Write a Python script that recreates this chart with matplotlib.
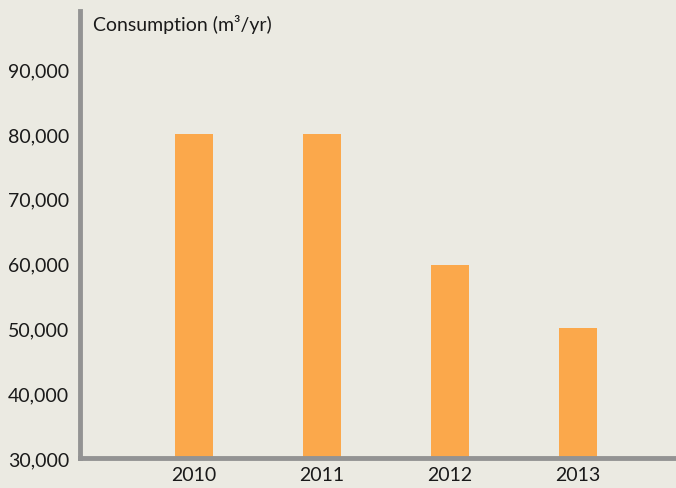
import matplotlib.pyplot as plt

# dane
years = ['2010', '2011', '2012', '2013']
consumption = [80000, 80000, 59800, 50000]
y_ticks = [30000, 40000, 50000, 60000, 70000, 80000, 90000]

bg = '#ebeae2'
bar_color = '#fba84b'
axis_color = '#939393'

plt.rcParams['font.family'] = ['Lato', 'DejaVu Sans']

fig = plt.figure(figsize=(6.76, 4.89), dpi=100, facecolor=bg)
ax = fig.add_axes([80 / 676, (489 - 459) / 489, 596 / 676, (459 - 12) / 489])
ax.set_facecolor(bg)

x = range(len(years))
ax.bar(x, consumption, width=0.297, color=bar_color, zorder=2)

ax.set_xlim(-0.89, 3.77)
ax.set_ylim(30000, 99000)

ax.set_yticks(y_ticks)
ax.set_yticklabels([f'{v:,}' for v in y_ticks])
ax.set_xticks(list(x))
ax.set_xticklabels(years)
ax.tick_params(axis='both', length=0, labelsize=14, colors='#1a1a1a')
ax.tick_params(axis='y', pad=8)
ax.tick_params(axis='x', pad=6)

for s in ['top', 'right']:
    ax.spines[s].set_visible(False)
for s in ['left', 'bottom']:
    ax.spines[s].set_color(axis_color)
    ax.spines[s].set_linewidth(3.5)
    ax.spines[s].set_zorder(3)

ax.text(93 / 676, 1 - 24 / 489, 'Consumption (m³/yr)', transform=fig.transFigure,
        fontsize=14, color='#1a1a1a', va='center', ha='left')

fig.savefig('out.png', dpi=100, facecolor=bg)
